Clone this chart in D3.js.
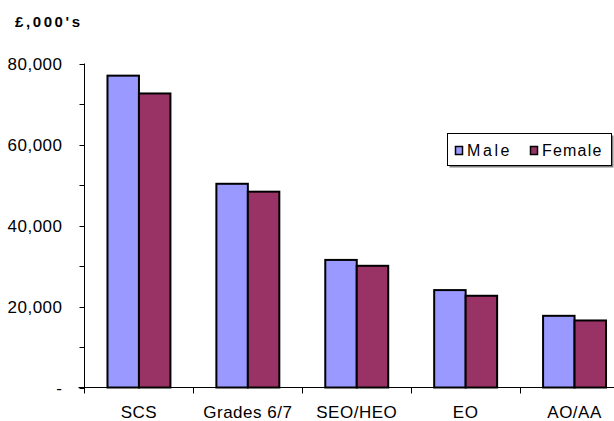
<!DOCTYPE html>
<html>
<head>
<meta charset="utf-8">
<script src="https://cdn.jsdelivr.net/npm/d3@7/dist/d3.min.js"></script>
<style>
  html, body { margin: 0; padding: 0; background: #fff; }
  svg { display: block; font-family: "Liberation Sans", Arial, sans-serif; }
</style>
</head>
<body>
<svg id="chart" width="614" height="421"></svg>
<script>
// Average salary by grade and gender
const categories = ["SCS", "Grades 6/7", "SEO/HEO", "EO", "AO/AA"];
const seriesNames = ["Male", "Female"];
const maleValues = [77000, 50300, 31500, 24050, 17700];
const femaleValues = [72600, 48350, 30050, 22650, 16550];
const yTickValues = [0, 20000, 40000, 60000, 80000];
const yTickLabels = ["-", "20,000", "40,000", "60,000", "80,000"];
const unitLabel = "£,000's";

const colors = { Male: "#9999FF", Female: "#993366" };

const svg = d3.select("#chart");

const plotLeft = 84.5, plotBottom = 387.5, plotTop = 63.5;
const step = 108.9;

const x0 = d3.scaleBand()
  .domain(categories)
  .range([plotLeft, plotLeft + step * categories.length])
  .paddingInner(0).paddingOuter(0);

const x1 = d3.scaleBand()
  .domain(seriesNames)
  .range([0, x0.bandwidth()])
  .paddingInner(0).paddingOuter(0.73);

const y = d3.scaleLinear().domain([0, 80000]).range([plotBottom, plotTop]);

const rows = categories.map((c, i) => ({
  category: c,
  values: [
    { series: "Male", value: maleValues[i] },
    { series: "Female", value: femaleValues[i] }
  ]
}));

// Bars
const groups = svg.append("g").selectAll("g")
  .data(rows).join("g")
  .attr("transform", d => `translate(${x0(d.category)},0)`);

groups.selectAll("rect")
  .data(d => d.values).join("rect")
  .attr("x", d => x1(d.series))
  .attr("y", d => y(d.value))
  .attr("width", x1.bandwidth())
  .attr("height", d => y(0) - y(d.value))
  .attr("fill", d => colors[d.series])
  .attr("stroke", "#000")
  .attr("stroke-width", 2);

// Y axis with major and minor ticks
const yAxis = svg.append("g").attr("transform", `translate(${plotLeft},0)`);
yAxis.append("line")
  .attr("x1", 0).attr("x2", 0)
  .attr("y1", y(80000)).attr("y2", plotBottom + 6)
  .attr("stroke", "#000");
const minorTicks = d3.range(0, 80001, 10000);
yAxis.selectAll("line.tick")
  .data(minorTicks).join("line")
  .attr("class", "tick")
  .attr("x1", -5).attr("x2", 0)
  .attr("y1", d => Math.round(y(d)) + 0.5)
  .attr("y2", d => Math.round(y(d)) + 0.5)
  .attr("stroke", "#000");
yAxis.selectAll("text")
  .data(yTickValues).join("text")
  .attr("x", -22)
  .attr("y", d => y(d))
  .attr("dy", "0.36em")
  .attr("text-anchor", "end")
  .attr("font-size", 17)
  .attr("letter-spacing", "0.5px")
  .attr("fill", "#000")
  .text((d, i) => yTickLabels[i]);

// X axis baseline, category dividers and labels
const xAxis = svg.append("g");
xAxis.append("line")
  .attr("x1", plotLeft - 6).attr("x2", 614)
  .attr("y1", plotBottom).attr("y2", plotBottom)
  .attr("stroke", "#000");
xAxis.selectAll("line.div")
  .data(categories.slice(1)).join("line")
  .attr("class", "div")
  .attr("x1", d => Math.round(x0(d)) + 0.5)
  .attr("x2", d => Math.round(x0(d)) + 0.5)
  .attr("y1", plotBottom).attr("y2", plotBottom + 6)
  .attr("stroke", "#000");
xAxis.selectAll("text")
  .data(categories).join("text")
  .attr("x", d => x0(d) + x0.bandwidth() / 2)
  .attr("y", 417.5)
  .attr("text-anchor", "middle")
  .attr("font-size", 17)
  .attr("letter-spacing", "0.5px")
  .attr("fill", "#000")
  .text(d => d);

// Unit label
svg.append("text")
  .attr("x", 15).attr("y", 27)
  .attr("font-size", 15)
  .attr("font-weight", "bold")
  .attr("letter-spacing", "2.6px")
  .attr("fill", "#000")
  .text(unitLabel);

// Legend
const legend = svg.append("g");
legend.append("rect")
  .attr("x", 449.5).attr("y", 135.5)
  .attr("width", 164).attr("height", 32)
  .attr("fill", "#808080");
legend.append("rect")
  .attr("x", 447.5).attr("y", 133.5)
  .attr("width", 164).attr("height", 32)
  .attr("fill", "#fff")
  .attr("stroke", "#000");
const legendX = [455, 530];
const legendSpacing = [2.6, 1.2];
seriesNames.forEach((s, i) => {
  legend.append("rect")
    .attr("x", legendX[i] + 0.5).attr("y", 146.5)
    .attr("width", 7).attr("height", 8)
    .attr("fill", colors[s])
    .attr("stroke", "#000")
    .attr("stroke-width", 1.5);
  legend.append("text")
    .attr("x", legendX[i] + 12).attr("y", 156)
    .attr("font-size", 16)
    .attr("letter-spacing", legendSpacing[i] + "px")
    .attr("fill", "#000")
    .text(s);
});
</script>
</body>
</html>
